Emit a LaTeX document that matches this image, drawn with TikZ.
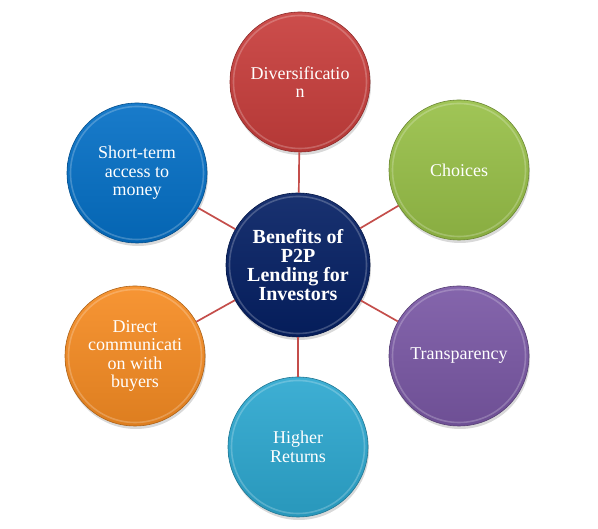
\documentclass[tikz,border=0pt]{standalone}
\usepackage{fontspec}
\setmainfont{Liberation Serif}
\usetikzlibrary{shadows}
\definecolor{cred}{RGB}{200,62,60}
\definecolor{cgreen}{RGB}{152,192,72}
\definecolor{cpurple}{RGB}{122,88,165}
\definecolor{ccyan}{RGB}{45,168,208}
\definecolor{cblue}{RGB}{5,112,198}
\definecolor{corange}{RGB}{246,140,35}
\definecolor{cnavy}{RGB}{5,32,100}
\definecolor{cline}{RGB}{196,78,75}
\begin{document}
\begin{tikzpicture}[x=1pt,y=1pt,
  bubble/.style 2 args={circle, minimum size=#2, inner sep=0pt, text=white, align=center,
    draw=#1!70!black, line width=0.6pt,
    top color=#1!92!white, bottom color=#1!90!black,
    drop shadow={shadow xshift=1pt, shadow yshift=-3pt, opacity=0.3},
    path picture={\draw[white, opacity=0.22, line width=1.6pt]
      (path picture bounding box.center) circle ({#2/2-3.5pt});}},
  outer/.style={bubble={#1}{140pt}, font=\fontsize{18}{18.5}\selectfont},
  hub/.style={bubble={#1}{144pt}, font=\bfseries\fontsize{20}{19}\selectfont},
  link/.style={draw=cline, line width=1.7pt}]
\useasboundingbox (0,0) rectangle (598,529);
\node[hub=cnavy] (c) at (298,264) {Benefits of\\P2P\\Lending for\\Investors};
\node[outer=cred] (d) at (300,447) {Diversificatio\\n};
\node[outer=cgreen] (ch) at (459,359) {Choices};
\node[outer=cpurple] (t) at (459,173) {Transparency};
\node[outer=ccyan] (h) at (298,82) {Higher\\Returns};
\node[outer=corange] (dc) at (135,173) {Direct\\communicati\\on with\\buyers};
\node[outer=cblue] (s) at (137,356) {Short-term\\access to\\money};
\foreach \n in {d,ch,t,h,dc,s} \draw[link] (c) -- (\n);
\end{tikzpicture}
\end{document}
